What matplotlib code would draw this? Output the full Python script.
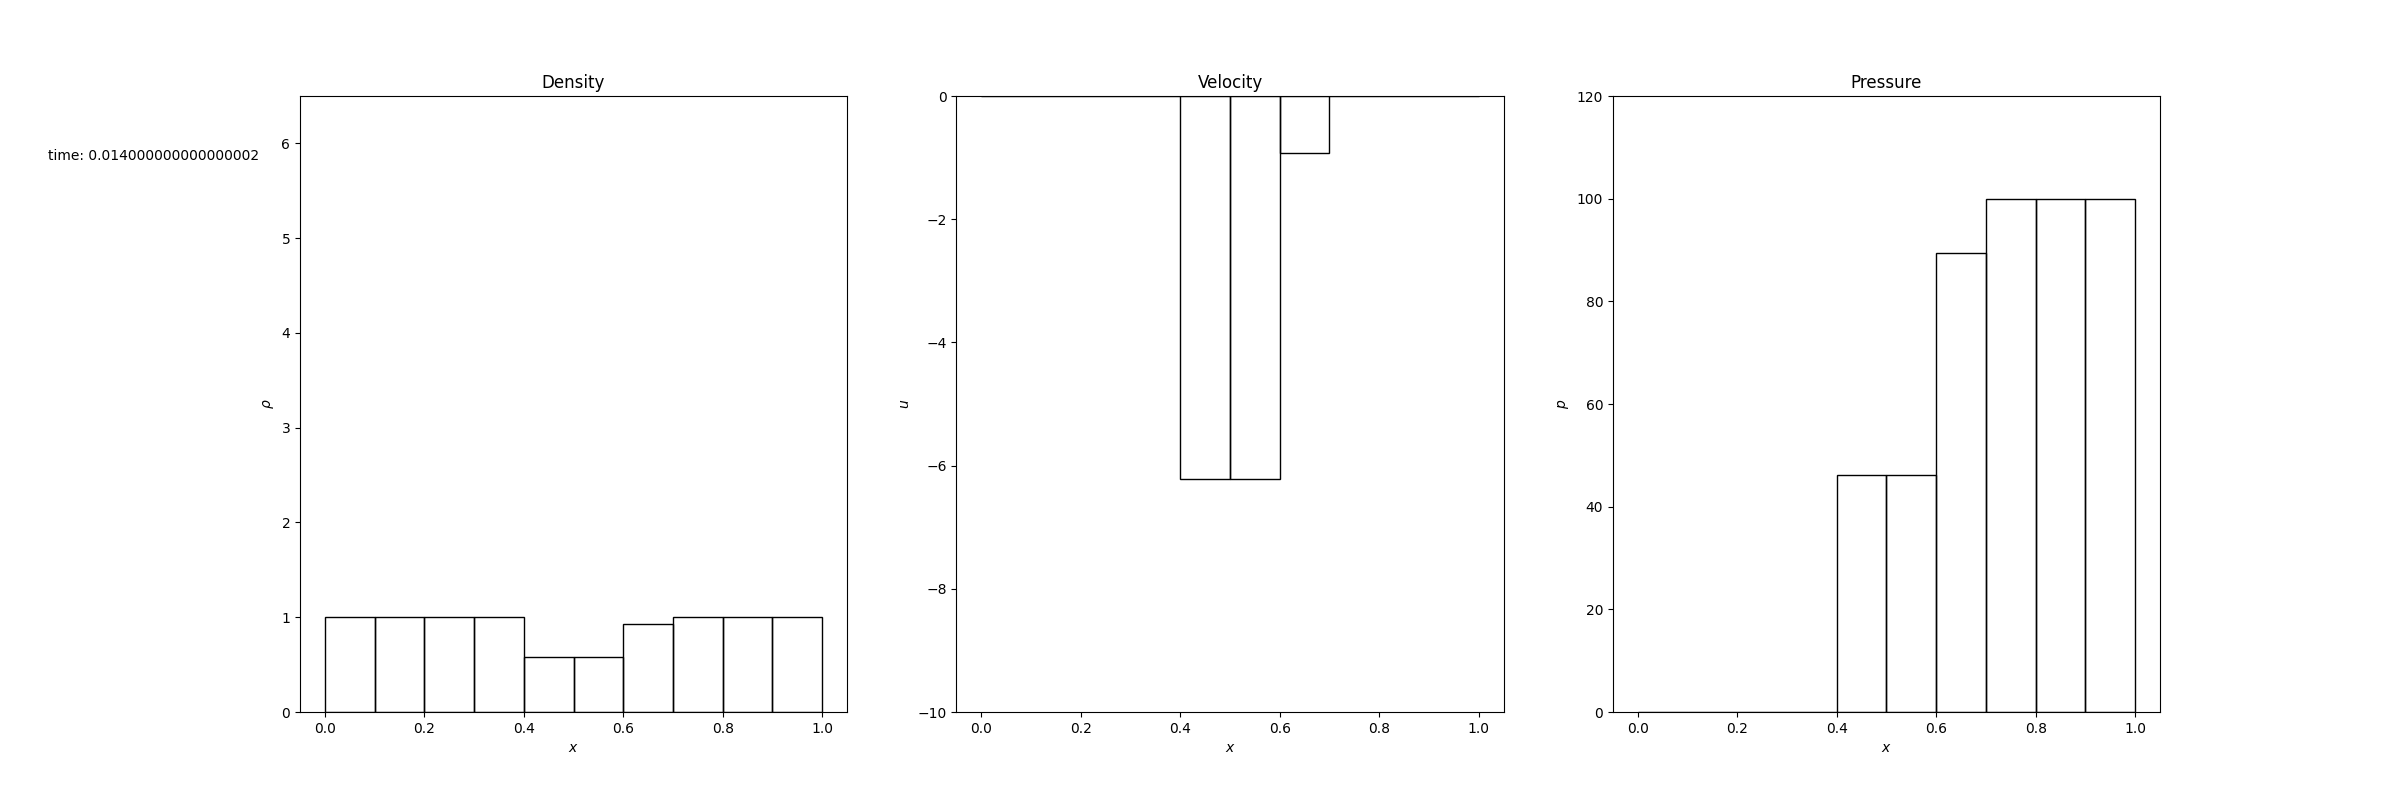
import matplotlib
matplotlib.use("Agg")
import matplotlib.pyplot as plt
import numpy as np

x_left = [0.0, 0.1, 0.2, 0.3, 0.4, 0.5, 0.6, 0.7, 0.8, 0.9]
density = [1.0, 1.0, 1.0, 1.0, 0.577, 0.577, 0.930, 1.0, 1.0, 1.0]
velocity = [0.0, 0.0, 0.0, 0.0, -6.21, -6.21, -0.92, 0.0, 0.0, 0.0]
pressure = [0.0, 0.0, 0.0, 0.0, 46.2, 46.2, 89.5, 100.0, 100.0, 100.0]
time_label = "time: 0.014000000000000002"

fig, axes = plt.subplots(1, 3, figsize=(24, 8), dpi=100)

specs = [
    (axes[0], density, "Density", r"$\rho$", (0, 6.5)),
    (axes[1], velocity, "Velocity", r"$u$", (-10, 0)),
    (axes[2], pressure, "Pressure", r"$p$", (0, 120)),
]
for ax, vals, title, ylab, ylim in specs:
    ax.bar(x_left, vals, width=0.1, align="edge", fill=False, edgecolor="black")
    ax.set_title(title)
    ax.set_xlabel(r"$x$")
    ax.set_ylabel(ylab)
    ax.set_ylim(*ylim)

fig.text(0.02, 0.8, time_label)
fig.savefig("out.png")
